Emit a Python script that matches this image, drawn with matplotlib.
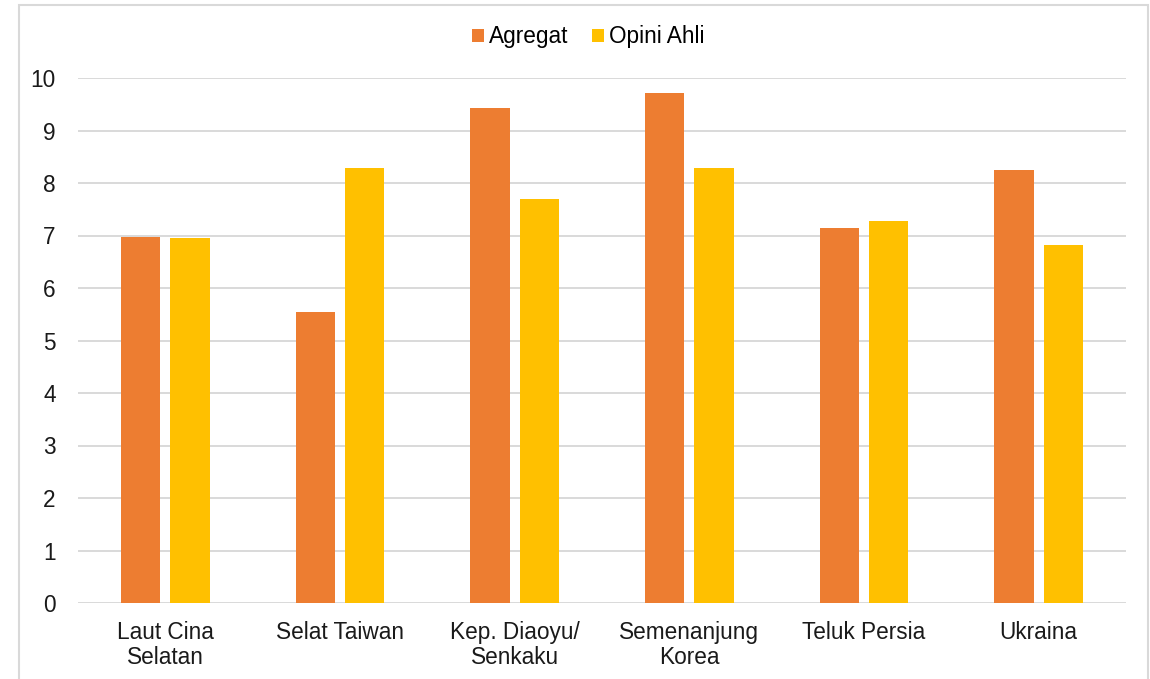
import numpy as np
import matplotlib.pyplot as plt
from matplotlib.patches import Rectangle

# ---- Data ----
categories = ["Laut Cina\nSelatan", "Selat Taiwan", "Kep. Diaoyu/\nSenkaku",
              "Semenanjung\nKorea", "Teluk Persia", "Ukraina"]
agregat = [6.98, 5.54, 9.43, 9.71, 7.14, 8.25]
opini_ahli = [6.95, 8.29, 7.70, 8.29, 7.28, 6.81]
series_names = ["Agregat", "Opini Ahli"]
yticks = list(range(0, 11))

plt.rcParams['font.family'] = ['Liberation Sans', 'DejaVu Sans']
fs = 16.3

fig = plt.figure(figsize=(11.5, 6.79), dpi=100)
ax = fig.add_axes([78 / 1150, 1 - 603 / 679, (1126 - 78) / 1150, (603 - 78) / 679])

x = np.arange(len(categories))
width = 0.225
offset = 0.142
ax.bar(x - offset, agregat, width, color='#ED7D31', label=series_names[0], zorder=3)
ax.bar(x + offset, opini_ahli, width, color='#FFC000', label=series_names[1], zorder=3)

ax.set_xlim(-0.5, len(categories) - 0.5)
ax.set_ylim(0, 10)
ax.set_yticks(yticks)
ax.set_xticks(x)
ax.set_xticklabels(categories, fontsize=fs, color='#1a1a1a', linespacing=1.12)
ax.tick_params(axis='y', labelsize=fs, labelcolor='#1a1a1a', length=0, pad=16)
ax.tick_params(axis='x', length=0, pad=13)
ax.grid(axis='y', color='#D9D9D9', linewidth=1.4, zorder=0)
for s in ax.spines.values():
    s.set_visible(False)

leg = fig.legend(loc='center', bbox_to_anchor=(588 / 1150, 1 - 37 / 679), ncol=2,
                 frameon=False, fontsize=fs, handlelength=0.53, handleheight=0.53,
                 handletextpad=0.22, columnspacing=1.06, borderpad=0)

# outer chart border
fig.patches.append(Rectangle((19 / 1150, -0.01), (1148 - 19) / 1150, 1 - 5 / 679 + 0.01,
                             transform=fig.transFigure, fill=False,
                             edgecolor='#D9D9D9', linewidth=1.5))

fig.savefig('out.png', dpi=100)
